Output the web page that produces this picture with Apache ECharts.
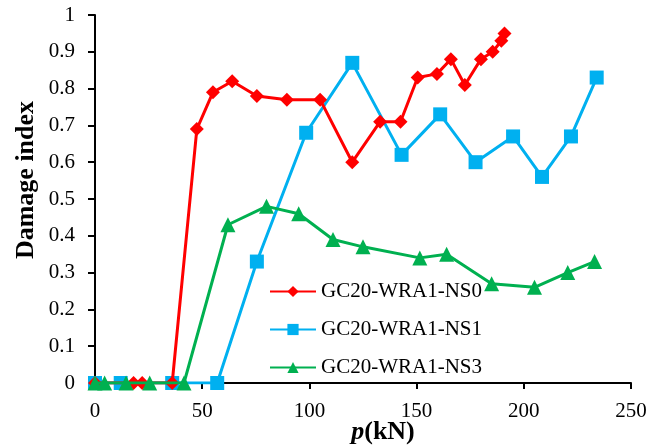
<!DOCTYPE html>
<html>
<head>
<meta charset="utf-8">
<script src="https://cdn.jsdelivr.net/npm/echarts@6/dist/echarts.min.js"></script>
<style>
  html, body { margin: 0; padding: 0; background: #fff; }
  #chart { width: 651px; height: 445px; }
</style>
</head>
<body>
<div id="chart"></div>
<script>
// Load p (kN) against damage index for three specimens
const seriesNames = ['GC20-WRA1-NS0', 'GC20-WRA1-NS1', 'GC20-WRA1-NS3'];

const ns0Load = [0, 18, 22, 36, 47.5, 55, 64, 75.5, 89.5, 105, 120, 133, 142.5, 150.5, 159.5, 166, 172.5, 180, 185.5, 189.5, 191];
const ns0Damage = [0, 0, 0, 0, 0.69, 0.79, 0.82, 0.78, 0.77, 0.77, 0.60, 0.71, 0.71, 0.83, 0.84, 0.88, 0.81, 0.88, 0.90, 0.93, 0.95];

const ns1Load = [0, 12, 36, 57, 75.5, 98.5, 120, 143, 161, 177.5, 195, 208.5, 222, 234];
const ns1Damage = [0, 0, 0, 0, 0.33, 0.68, 0.87, 0.62, 0.73, 0.60, 0.67, 0.56, 0.67, 0.83];

const ns3Load = [0, 4.5, 14.5, 25.5, 41.5, 62, 80, 95, 111, 125, 151.5, 164, 185, 205, 220.5, 233];
const ns3Damage = [0, 0, 0, 0, 0, 0.43, 0.48, 0.46, 0.39, 0.37, 0.34, 0.35, 0.27, 0.26, 0.30, 0.33];

const xTicks = [0, 50, 100, 150, 200, 250];
const yTicks = [0, 0.1, 0.2, 0.3, 0.4, 0.5, 0.6, 0.7, 0.8, 0.9, 1];

const serif = '"Liberation Serif", "Times New Roman", serif';

function pairs(xs, ys) {
  return xs.map((x, i) => [x, ys[i]]);
}

const chart = echarts.init(document.getElementById('chart'));

const lineStyleFor = (color) => ({
  type: 'line',
  showSymbol: true,
  lineStyle: { color: color, width: 3 },
  itemStyle: { color: color },
  emphasis: { disabled: true },
  animation: false
});

chart.setOption({
  backgroundColor: '#ffffff',
  animation: false,
  grid: { left: 95, right: 20, top: 15, bottom: 62, containLabel: false, outerBoundsMode: 'none' },
  legend: {
    orient: 'vertical',
    left: 264,
    top: 276,
    itemWidth: 46,
    itemHeight: 14,
    itemGap: 17,
    textStyle: { fontFamily: serif, fontSize: 21, color: '#000' },
    data: seriesNames
  },
  xAxis: {
    type: 'value',
    min: xTicks[0],
    max: xTicks[xTicks.length - 1],
    interval: 50,
    name: '{b|p}{c|(kN)}',
    nameLocation: 'middle',
    nameGap: 36,
    nameMoveOverlap: false,
    nameTextStyle: {
      padding: [0, 0, 0, 40],
      rich: {
        b: { fontFamily: serif, fontSize: 26, fontWeight: 'bold', fontStyle: 'italic', color: '#000' },
        c: { fontFamily: serif, fontSize: 26, fontWeight: 'bold', color: '#000' }
      }
    },
    axisLine: { lineStyle: { color: '#000', width: 2 } },
    axisTick: { show: true, length: 6, inside: false, lineStyle: { color: '#000', width: 2 } },
    axisLabel: { fontFamily: serif, fontSize: 21, color: '#000', margin: 18 },
    splitLine: { show: false }
  },
  yAxis: {
    type: 'value',
    min: yTicks[0],
    max: yTicks[yTicks.length - 1],
    interval: 0.1,
    name: 'Damage index',
    nameLocation: 'middle',
    nameRotate: 90,
    nameGap: 56,
    nameMoveOverlap: false,
    nameTextStyle: {
      fontFamily: serif, fontSize: 26, fontWeight: 'bold', color: '#000',
      padding: [0, 0, 0, 38]
    },
    axisLine: { show: true, lineStyle: { color: '#000', width: 2 } },
    axisTick: { show: true, length: 7, inside: false, lineStyle: { color: '#000', width: 2 } },
    axisLabel: { fontFamily: serif, fontSize: 21, color: '#000', margin: 20 },
    splitLine: { show: false }
  },
  series: [
    Object.assign(lineStyleFor('#ff0000'), {
      name: seriesNames[0], symbol: 'diamond', symbolSize: 14, z: 4,
      data: pairs(ns0Load, ns0Damage)
    }),
    Object.assign(lineStyleFor('#00b0f0'), {
      name: seriesNames[1], symbol: 'rect', symbolSize: 14, z: 3,
      data: pairs(ns1Load, ns1Damage)
    }),
    Object.assign(lineStyleFor('#00b050'), {
      name: seriesNames[2], symbol: 'triangle', symbolSize: 15, z: 5,
      data: pairs(ns3Load, ns3Damage)
    })
  ]
});
</script>
</body>
</html>
